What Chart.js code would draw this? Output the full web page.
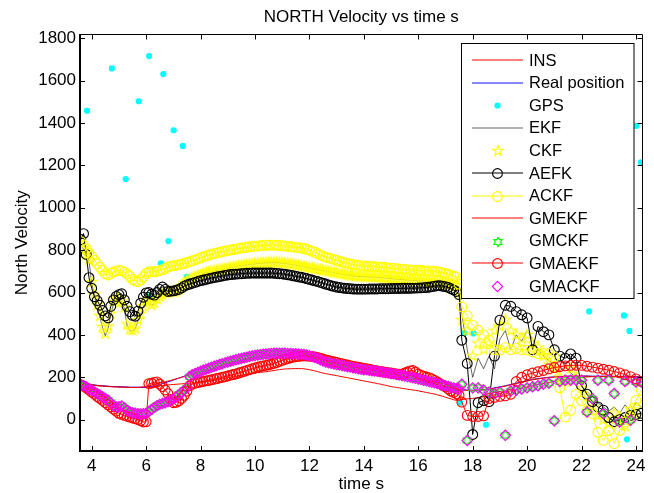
<!DOCTYPE html>
<html>
<head>
<meta charset="utf-8">
<script src="https://cdn.jsdelivr.net/npm/chart.js@4.4.0/dist/chart.umd.min.js"></script>
<style>
  html, body { margin: 0; padding: 0; background: #fff; }
  #wrap { width: 654px; height: 493px; }
</style>
</head>
<body>
<div id="wrap"><canvas id="c" width="654" height="493"></canvas></div>
<script>
// Sample times (s): 0.1 s while the filters track smoothly, 0.2 s afterwards
const time = [
  3.6, 3.7, 3.8, 3.9, 4.0, 4.1, 4.2, 4.3, 4.4, 4.5,
  4.6, 4.7, 4.8, 4.9, 5.0, 5.1, 5.2, 5.3, 5.4, 5.5,
  5.6, 5.7, 5.8, 5.9, 6.0, 6.1, 6.2, 6.3, 6.4, 6.5,
  6.6, 6.7, 6.8, 6.9, 7.0, 7.1, 7.2, 7.3, 7.4, 7.5,
  7.6, 7.7, 7.8, 7.9, 8.0, 8.1, 8.2, 8.3, 8.4, 8.5,
  8.6, 8.7, 8.8, 8.9, 9.0, 9.1, 9.2, 9.3, 9.4, 9.5,
  9.6, 9.7, 9.8, 9.9, 10.0, 10.1, 10.2, 10.3, 10.4, 10.5,
  10.6, 10.7, 10.8, 10.9, 11.0, 11.1, 11.2, 11.3, 11.4, 11.5,
  11.6, 11.7, 11.8, 11.9, 12.0, 12.1, 12.2, 12.3, 12.4, 12.5,
  12.6, 12.7, 12.8, 12.9, 13.0, 13.1, 13.2, 13.3, 13.4, 13.5,
  13.6, 13.7, 13.8, 13.9, 14.0, 14.1, 14.2, 14.3, 14.4, 14.5,
  14.6, 14.7, 14.8, 14.9, 15.0, 15.1, 15.2, 15.3, 15.4, 15.5,
  15.6, 15.7, 15.8, 15.9, 16.0, 16.1, 16.2, 16.3, 16.4, 16.5,
  16.6, 16.7, 16.8, 16.9, 17.0, 17.1, 17.2, 17.3, 17.4, 17.5,
  17.6, 17.8, 18.0, 18.2, 18.4, 18.6, 18.8, 19.0, 19.2, 19.4,
  19.6, 19.8, 20.0, 20.2, 20.4, 20.6, 20.8, 21.0, 21.2, 21.4,
  21.6, 21.8, 22.0, 22.2, 22.4, 22.6, 22.8, 23.0, 23.2, 23.4,
  23.6, 23.8, 24.0, 24.2
];

const ins = [
  175, 171, 168, 165, 163, 161, 160, 159, 158, 157,
  156, 156, 155, 155, 154, 154, 153, 153, 152, 152,
  152, 152, 152, 152, 153, 154, 155, 156, 158, 160,
  161, 163, 164, 165, 166, 167, 168, 169, 170, 171,
  172, 173, 174, 175, 177, 178, 180, 182, 183, 185,
  187, 190, 192, 195, 197, 200, 202, 205, 207, 210,
  212, 214, 216, 218, 220, 222, 223, 225, 226, 228,
  230, 232, 234, 236, 238, 239, 240, 240, 241, 241,
  241, 241, 240, 238, 236, 233, 230, 227, 223, 220,
  217, 215, 212, 210, 208, 205, 203, 200, 198, 195,
  193, 190, 188, 185, 183, 180, 178, 175, 173, 170,
  168, 165, 162, 159, 156, 154, 152, 150, 148, 146,
  144, 142, 140, 138, 136, 133, 131, 128, 126, 123,
  121, 117, 114, 110, 106, 102, 98, 94, 91, 93,
  95, 98, 100, 104, 108, 113, 118, 124, 130, 136,
  142, 148, 154, 160, 166, 171, 176, 181, 186, 190,
  194, 197, 200, 202, 203, 204, 204, 204, 203, 202,
  201, 200, 199, 198
];

const realPosition = [
  180, 176, 172, 169, 166, 164, 162, 161, 160, 159,
  158, 157, 156, 156, 155, 155, 154, 154, 153, 153,
  153, 153, 153, 153, 154, 156, 158, 160, 163, 166,
  170, 174, 178, 182, 187, 191, 196, 200, 205, 208,
  212, 216, 220, 223, 226, 229, 232, 236, 240, 244,
  248, 252, 256, 260, 264, 268, 271, 275, 278, 281,
  284, 287, 290, 292, 295, 297, 299, 300, 302, 303,
  304, 305, 305, 305, 305, 305, 304, 304, 303, 303,
  302, 301, 300, 298, 295, 292, 288, 284, 279, 275,
  270, 267, 264, 261, 258, 256, 253, 251, 248, 246,
  243, 241, 239, 237, 235, 233, 232, 230, 229, 227,
  225, 223, 221, 219, 217, 215, 212, 210, 207, 205,
  202, 200, 197, 194, 191, 188, 185, 182, 179, 176,
  173, 170, 166, 163, 159, 156, 152, 149, 146, 144,
  142, 140, 139, 140, 142, 145, 150, 155, 160, 166,
  172, 178, 184, 190, 194, 197, 200, 202, 204, 205,
  206, 206, 206, 206, 205, 205, 205, 205, 204, 204,
  204, 203, 203, 202
];

const ekf = [
  828, 805, 775, 750, 645, 585, 535, 485, 435, 395,
  430, 495, 550, 568, 573, 558, 525, 445, 420, 418,
  428, 468, 498, 532, 560, 552, 540, 548, 566, 578,
  588, 596, 601, 603, 602, 604, 614, 628, 643, 654,
  661, 667, 674, 679, 683, 689, 693, 696, 699, 701,
  703, 706, 709, 712, 715, 717, 720, 722, 725, 727,
  729, 731, 733, 734, 736, 737, 738, 739, 740, 741,
  741, 741, 741, 740, 739, 738, 736, 734, 732, 730,
  727, 725, 722, 719, 716, 714, 711, 709, 706, 704,
  702, 699, 697, 694, 691, 689, 687, 685, 683, 681,
  679, 677, 676, 675, 675, 674, 674, 673, 673, 672,
  671, 670, 669, 667, 666, 665, 663, 662, 661, 660,
  659, 658, 657, 656, 656, 655, 654, 653, 651, 650,
  649, 647, 645, 643, 641, 639, 637, 635, 630, 600,
  500, 330, 200, 290, 240, 300, 240, 380, 420, 330,
  400, 370, 420, 380, 330, 300, 280, 260, 230, 250,
  220, 200, 160, 130, 110, 80, 60, 40, 60, 30,
  70, 40, 80, 60
];

const ckf = [
  832, 810, 780, 753, 650, 590, 540, 490, 438, 405,
  440, 500, 556, 570, 575, 560, 530, 450, 425, 422,
  430, 470, 500, 535, 564, 555, 542, 550, 568, 580,
  590, 598, 603, 604, 603, 605, 615, 630, 645, 655,
  662, 668, 675, 680, 684, 690, 694, 697, 700, 702,
  704, 707, 710, 713, 716, 718, 721, 723, 726, 728,
  730, 732, 734, 735, 737, 738, 739, 740, 741, 742,
  742, 742, 742, 741, 740, 739, 737, 735, 733, 731,
  728, 726, 723, 720, 717, 715, 712, 710, 707, 705,
  703, 700, 698, 695, 692, 690, 688, 686, 684, 682,
  680, 678, 677, 676, 676, 675, 675, 674, 674, 673,
  672, 671, 670, 668, 667, 666, 664, 663, 662, 661,
  660, 659, 658, 657, 657, 656, 655, 654, 652, 651,
  650, 648, 646, 644, 642, 640, 638, 636, 635, 600,
  470, 420, 300, 360, 330, 360, 420, 440, 470, 420,
  400, 380, 400, 360, 340, 300, 260, 240, 200, 180,
  240, 200, 150, 110, 60, 20, 0, -20, 30, 10,
  -30, 50, 20, 70
];

const aefk = [
  850, 878, 780, 670, 620, 580, 562, 540, 515, 490,
  480, 535, 565, 582, 590, 594, 565, 535, 510, 492,
  488, 512, 550, 578, 598, 600, 592, 588, 600, 615,
  626, 615, 605, 606, 608, 611, 615, 622, 630, 636,
  640, 644, 648, 652, 656, 659, 662, 665, 668, 671,
  673, 676, 678, 681, 683, 685, 686, 687, 688, 689,
  690, 691, 691, 692, 692, 692, 692, 692, 692, 692,
  692, 691, 690, 689, 688, 686, 684, 682, 679, 677,
  674, 672, 669, 666, 662, 659, 655, 652, 648, 644,
  640, 636, 632, 629, 626, 624, 622, 620, 619, 618,
  617, 616, 616, 616, 616, 616, 617, 617, 617, 617,
  618, 618, 618, 618, 619, 619, 619, 619, 620, 620,
  620, 620, 621, 621, 622, 622, 623, 624, 625, 628,
  630, 632, 632, 630, 628, 624, 618, 612, 605, 590,
  375, 265, -70, 80, 90, 85, 300, 470, 540, 535,
  510, 495, 480, 330, 440, 415, 400, 330, 300, 290,
  310, 290, 160, 120, 85, 60, 45, 10, -10, 0,
  10, 20, 25, 30
];

const ackf = [
  840, 822, 805, 785, 770, 752, 735, 720, 705, 688,
  683, 690, 697, 702, 706, 703, 696, 688, 676, 662,
  655, 651, 660, 674, 690, 698, 698, 698, 700, 704,
  708, 714, 720, 724, 727, 729, 731, 734, 738, 742,
  746, 750, 754, 759, 764, 769, 773, 777, 781, 784,
  787, 790, 793, 796, 798, 801, 803, 805, 808, 810,
  812, 814, 816, 818, 819, 820, 821, 822, 823, 824,
  824, 824, 823, 822, 821, 820, 818, 816, 815, 813,
  812, 810, 808, 804, 800, 795, 790, 784, 778, 772,
  767, 763, 760, 756, 752, 748, 745, 741, 738, 735,
  732, 730, 728, 726, 725, 724, 723, 722, 722, 721,
  720, 719, 718, 716, 715, 714, 712, 711, 710, 709,
  708, 707, 706, 705, 705, 704, 703, 702, 702, 701,
  700, 698, 696, 693, 690, 686, 682, 678, 674, 640,
  532, 490, 445, 422, 400, 375, 330, 328, 340, 330,
  336, 330, 328, 320, 312, 312, 312, 296, 150, 12,
  44, 120, 90, 40, 28, -60, -98, -51, -113, -51,
  -11, 36, 91, 139
];

const gmekf = [
  178, 174, 170, 167, 165, 163, 161, 160, 159, 158,
  157, 156, 155, 155, 154, 154, 153, 153, 152, 152,
  152, 152, 153, 155, 158, 161, 164, 167, 170, 173,
  176, 179, 182, 185, 189, 192, 196, 200, 204, 207,
  211, 215, 219, 222, 226, 229, 233, 237, 241, 245,
  250, 254, 258, 262, 266, 270, 274, 277, 281, 284,
  287, 290, 293, 295, 298, 300, 302, 303, 305, 306,
  307, 307, 308, 308, 308, 308, 307, 307, 306, 306,
  305, 304, 303, 301, 298, 294, 290, 285, 280, 275,
  270, 267, 264, 261, 258, 256, 253, 250, 248, 245,
  243, 240, 238, 236, 234, 232, 231, 229, 228, 226,
  224, 222, 220, 218, 216, 213, 211, 208, 206, 203,
  201, 198, 196, 193, 190, 187, 184, 181, 178, 175,
  172, 168, 165, 162, 158, 155, 151, 148, 145, 142,
  140, 138, 137, 138, 140, 143, 148, 153, 158, 164,
  170, 176, 182, 188, 192, 196, 199, 201, 203, 204,
  205, 205, 205, 205, 204, 204, 204, 204, 203, 203,
  203, 202, 202, 201
];

const gmckf = [
  166, 159, 153, 145, 139, 130, 123, 117, 107, 101,
  91, 81, 65, 61, 60, 63, 56, 43, 38, 32,
  31, 27, 28, 27, 31, 37, 49, 57, 67, 71,
  77, 79, 85, 89, 99, 107, 119, 127, 140, 149,
  203, 213, 217, 224, 227, 234, 237, 244, 246, 253,
  255, 261, 263, 269, 271, 277, 278, 284, 285, 290,
  291, 296, 297, 302, 302, 306, 306, 310, 309, 312,
  311, 314, 312, 314, 312, 314, 311, 313, 310, 312,
  309, 310, 307, 306, 301, 299, 293, 290, 282, 278,
  271, 270, 265, 264, 259, 259, 254, 254, 249, 249,
  244, 244, 239, 239, 235, 236, 232, 232, 229, 229,
  225, 225, 221, 221, 217, 217, 212, 212, 207, 207,
  202, 202, 197, 196, 191, 190, 185, 184, 179, 178,
  173, 172, 166, 165, 159, 158, 152, 151, 146, 146,
  166, -98, 149, 151, 139, 131, 122, 129, -74, 134,
  140, 144, 151, 154, 161, 167, 173, -5, 179, 185,
  187, 185, 187, 36, 99, 185, 28, 187, 123, -11,
  181, -3, 177, 179
];

const gmaekf = [
  165, 158, 150, 140, 130, 120, 110, 100, 91, 80,
  70, 60, 50, 40, 30, 25, 20, 16, 12, 8,
  5, 0, -5, -11, -10, 170, 172, 176, 178, 168,
  156, 140, 123, 95, 80, 82, 88, 100, 115, 135,
  160, 168, 172, 175, 178, 180, 183, 185, 188, 191,
  194, 197, 200, 203, 206, 210, 213, 216, 220, 224,
  228, 232, 236, 240, 244, 248, 251, 254, 256, 259,
  262, 266, 270, 275, 280, 284, 288, 292, 295, 297,
  299, 300, 301, 300, 300, 298, 296, 293, 290, 286,
  282, 279, 276, 273, 270, 267, 264, 261, 258, 255,
  252, 250, 247, 245, 242, 240, 238, 235, 232, 230,
  228, 226, 224, 222, 220, 218, 216, 215, 215, 220,
  225, 230, 232, 225, 215, 210, 205, 201, 198, 192,
  185, 178, 170, 162, 155, 145, 135, 129, 123, 115,
  83, 20, 15, 15, 18, 100, 105, 110, 112, 120,
  180, 200, 212, 220, 226, 232, 240, 246, 250, 254,
  256, 257, 256, 252, 248, 243, 238, 233, 227, 221,
  212, 203, 192, 180
];

const gmackf = [
  165, 160, 154, 146, 138, 131, 124, 116, 108, 100,
  92, 80, 66, 60, 61, 64, 55, 44, 37, 33,
  30, 28, 27, 28, 30, 38, 48, 58, 66, 72,
  76, 80, 84, 90, 98, 108, 118, 128, 139, 150,
  204, 212, 218, 223, 228, 233, 238, 243, 247, 252,
  256, 260, 264, 268, 272, 276, 279, 283, 286, 289,
  292, 295, 298, 301, 303, 305, 307, 309, 310, 311,
  312, 313, 313, 313, 313, 313, 312, 312, 311, 311,
  310, 309, 308, 305, 302, 298, 294, 289, 283, 277,
  272, 269, 266, 263, 260, 258, 255, 253, 250, 248,
  245, 243, 240, 238, 236, 235, 233, 231, 230, 228,
  226, 224, 222, 220, 218, 216, 213, 211, 208, 206,
  203, 201, 198, 195, 192, 189, 186, 183, 180, 177,
  174, 171, 167, 164, 160, 157, 153, 150, 147, 145,
  167, -98, 150, 150, 140, 130, 123, 130, -74, 135,
  139, 145, 150, 155, 160, 168, 172, -5, 180, 186,
  186, 186, 186, 36, 99, 186, 28, 186, 123, -11,
  180, -3, 178, 178
];

// GPS fixes (own time stamps)
const gpsTime = [3.83, 4.74, 5.25, 5.73, 6.11, 6.17, 6.54, 6.63, 6.82, 7.01, 7.35, 7.49,
                 17.54, 17.69, 18.03, 18.49, 22.28, 23.56, 23.67, 23.76, 24.01, 24.18];
const gpsVel  = [1458, 1658, 1136, 1503, 1716, 584, 738, 1631, 843, 1366, 1292, 674,
                 80, 409, 407, -24, 511, 492, -93, 419, 1387, 1215];

const xTicks = [4, 6, 8, 10, 12, 14, 16, 18, 20, 22, 24];
const yTicks = [0, 200, 400, 600, 800, 1000, 1200, 1400, 1600, 1800];

const FONT = '"Liberation Sans", Arial, Helvetica, sans-serif';

// Outlined star markers drawn once onto small canvases
function starMarker(points, inner, color, r) {
  const s = Math.ceil(r * 2 + 4);
  const c = document.createElement('canvas');
  c.width = s; c.height = s;
  const g = c.getContext('2d');
  g.strokeStyle = color; g.lineWidth = 1.1;
  g.beginPath();
  for (let k = 0; k < points * 2; k++) {
    const rr = k % 2 ? r * inner : r;
    const a = -Math.PI / 2 + k * Math.PI / points;
    const px = s / 2 + rr * Math.cos(a), py = s / 2 + rr * Math.sin(a);
    if (k === 0) g.moveTo(px, py); else g.lineTo(px, py);
  }
  g.closePath(); g.stroke();
  return c;
}
const pentagram = starMarker(5, 0.382, '#ffff00', 5.6);
const hexagram = starMarker(6, 0.577, '#00ff00', 4.7);

const xy = arr => time.map((t, i) => ({ x: t, y: arr[i] }));

const series = [
  { label: 'INS', data: xy(ins), line: '#ff0000' },
  { label: 'Real position', data: xy(realPosition), line: '#1010ff' },
  { label: 'GPS', data: gpsTime.map((t, i) => ({ x: t, y: gpsVel[i] })), mark: 'dot', color: '#00ffff' },
  { label: 'EKF', data: xy(ekf), line: 'rgba(0,0,0,0.6)' },
  { label: 'CKF', data: xy(ckf), mark: pentagram, color: '#ffff00' },
  { label: 'AEFK', data: xy(aefk), line: '#000000', mark: 'circle', color: '#000000' },
  { label: 'ACKF', data: xy(ackf), line: '#ffff00', mark: 'circle', color: '#ffff00' },
  { label: 'GMEKF', data: xy(gmekf), line: '#ff0000' },
  { label: 'GMCKF', data: xy(gmckf), mark: hexagram, color: '#00ff00' },
  { label: 'GMAEKF', data: xy(gmaekf), line: '#ff0000', mark: 'circle', color: '#ff0000' },
  { label: 'GMACKF', data: xy(gmackf), mark: 'rectRot', color: '#ff00ff' }
];

const CIRCLE_R = 4.9, DIAMOND_R = 5.2;

const datasets = series.map((s, i) => {
  const d = {
    label: s.label,
    data: s.data,
    order: series.length - i,          // later series drawn on top
    showLine: !!s.line,
    borderColor: s.line || s.color,
    borderWidth: 1,
    tension: 0,
    fill: false,
    pointRadius: 0,
    pointHoverRadius: 0
  };
  if (s.mark === 'dot') {
    Object.assign(d, { pointStyle: 'circle', pointRadius: 3.1, pointBackgroundColor: s.color, pointBorderColor: s.color, pointBorderWidth: 0 });
  } else if (s.mark === 'circle') {
    Object.assign(d, { pointStyle: 'circle', pointRadius: CIRCLE_R, pointBackgroundColor: 'rgba(0,0,0,0)', pointBorderColor: s.color, pointBorderWidth: 1.1 });
  } else if (s.mark === 'rectRot') {
    Object.assign(d, { pointStyle: 'rectRot', pointRadius: DIAMOND_R, pointBackgroundColor: 'rgba(0,0,0,0)', pointBorderColor: s.color, pointBorderWidth: 1.1 });
  } else if (s.mark) {
    Object.assign(d, { pointStyle: s.mark, pointRadius: 5 });
  }
  return d;
});

function drawLegendMark(ctx, s, x, y) {
  ctx.save();
  ctx.lineWidth = 1.1;
  if (s.mark === 'dot') {
    ctx.fillStyle = s.color;
    ctx.beginPath(); ctx.arc(x, y, 3.1, 0, Math.PI * 2); ctx.fill();
  } else if (s.mark === 'circle') {
    ctx.strokeStyle = s.color;
    ctx.beginPath(); ctx.arc(x, y, CIRCLE_R, 0, Math.PI * 2); ctx.stroke();
  } else if (s.mark === 'rectRot') {
    const r = DIAMOND_R;
    ctx.strokeStyle = s.color;
    ctx.beginPath(); ctx.moveTo(x, y - r); ctx.lineTo(x + r, y); ctx.lineTo(x, y + r); ctx.lineTo(x - r, y); ctx.closePath(); ctx.stroke();
  } else if (s.mark) {
    ctx.drawImage(s.mark, Math.round(x - s.mark.width / 2), Math.round(y - s.mark.height / 2));
  }
  ctx.restore();
}

const framePlugin = {
  id: 'frame',
  beforeDraw(chart) {
    const ctx = chart.ctx;
    ctx.save();
    ctx.fillStyle = '#ffffff';
    ctx.fillRect(0, 0, chart.width, chart.height);
    ctx.restore();
  },
  afterDraw(chart) {
    const ctx = chart.ctx;
    const a = chart.chartArea;
    const xs = chart.scales.x, ys = chart.scales.y;
    ctx.save();
    // axes box
    ctx.strokeStyle = '#000';
    ctx.lineWidth = 1;
    ctx.beginPath();
    ctx.moveTo(a.left, a.top); ctx.lineTo(a.right, a.top); ctx.lineTo(a.right, a.bottom);
    ctx.stroke();
    ctx.lineWidth = 2;
    ctx.beginPath();
    ctx.moveTo(a.left, a.top - 0.5); ctx.lineTo(a.left, a.bottom); ctx.lineTo(a.right + 0.5, a.bottom);
    ctx.stroke();
    // inward tick marks on all four sides
    ctx.lineWidth = 1;
    ctx.beginPath();
    const tl = 5;
    xTicks.forEach(v => {
      const px = Math.round(xs.getPixelForValue(v)) + 0.5;
      ctx.moveTo(px, a.bottom); ctx.lineTo(px, a.bottom - tl);
      ctx.moveTo(px, a.top); ctx.lineTo(px, a.top + tl);
    });
    yTicks.forEach(v => {
      const py = Math.round(ys.getPixelForValue(v)) + 0.5;
      ctx.moveTo(a.left, py); ctx.lineTo(a.left + tl, py);
      ctx.moveTo(a.right, py); ctx.lineTo(a.right - tl, py);
    });
    ctx.stroke();

    // title
    ctx.fillStyle = '#000';
    ctx.font = '17px ' + FONT;
    ctx.textAlign = 'center';
    ctx.textBaseline = 'middle';
    ctx.fillText('NORTH Velocity vs time s', (a.left + a.right) / 2, 17.5);

    // legend
    const bx = 461.5, by = 43.5, bw = 172.5, bh = 255;
    ctx.fillStyle = '#fff';
    ctx.fillRect(bx, by, bw, bh);
    ctx.strokeStyle = '#000';
    ctx.lineWidth = 1;
    ctx.strokeRect(bx, by, bw, bh);
    ctx.font = '16.5px ' + FONT;
    ctx.textAlign = 'left';
    ctx.textBaseline = 'middle';
    series.forEach((s, i) => {
      const y = 60 + i * 22.6;
      if (s.line) {
        ctx.strokeStyle = s.line;
        ctx.lineWidth = 1.2;
        ctx.beginPath();
        ctx.moveTo(472, Math.round(y)); ctx.lineTo(523, Math.round(y));
        ctx.stroke();
      }
      drawLegendMark(ctx, s, 497.5, Math.round(y) + 0.5);
      ctx.fillStyle = '#000';
      ctx.fillText(s.label, 529, y + 1);
    });
    ctx.restore();
  }
};

new Chart(document.getElementById('c'), {
  type: 'line',
  data: { datasets },
  options: {
    responsive: false,
    devicePixelRatio: 1,
    animation: false,
    events: [],
    layout: { padding: { top: 34.5, right: 11.5, left: 0, bottom: 0 } },
    plugins: { legend: { display: false }, tooltip: { enabled: false }, title: { display: false } },
    scales: {
      x: {
        type: 'linear',
        min: 3.57,
        max: 24.24,
        afterBuildTicks: s => { s.ticks = xTicks.map(v => ({ value: v })); },
        afterFit: s => { s.height = 42; },
        grid: { display: false, drawTicks: false },
        border: { display: false },
        ticks: { color: '#000', font: { family: FONT, size: 17 }, padding: 5, maxRotation: 0, autoSkip: false, callback: v => String(v) },
        title: { display: true, text: 'time s', color: '#000', font: { family: FONT, size: 17 }, padding: { top: 0, bottom: -2 } }
      },
      y: {
        type: 'linear',
        min: -148,
        max: 1818,
        afterBuildTicks: s => { s.ticks = yTicks.map(v => ({ value: v })); },
        afterFit: s => { s.width = 80; },
        grid: { display: false, drawTicks: false },
        border: { display: false },
        ticks: { color: '#000', font: { family: FONT, size: 17 }, padding: 4, autoSkip: false, callback: v => String(v) },
        title: { display: true, text: 'North Velocity', color: '#000', font: { family: FONT, size: 17 }, padding: { top: 12, bottom: 0 } }
      }
    }
  },
  plugins: [framePlugin]
});
</script>
</body>
</html>
